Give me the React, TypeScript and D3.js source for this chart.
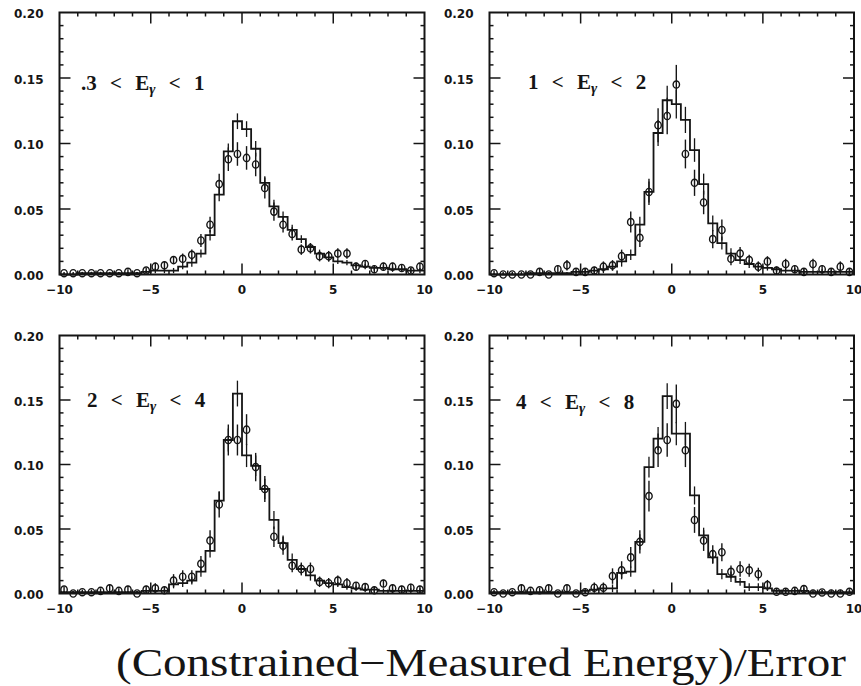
import React from "react";
import * as d3 from "d3";

// ---------- DATA ----------
// bins: 40 bins of width 0.5 from -10 to 10
const BIN_EDGES: number[] = d3.range(0, 41).map((i) => -10 + i * 0.5);
const BIN_CENTERS: number[] = d3.range(0, 40).map((i) => -9.75 + i * 0.5);

const E_LOW = [".3", "1", "2", "4"];
const E_HIGH = ["1", "2", "4", "8"];

// data points (circles)
const dataA = [0.001,0.001,0.001,0.001,0.001,0.001,0.001,0.002,0.001,0.003,0.006,0.007,0.011,0.012,0.015,0.026,0.038,0.069,0.088,0.092,0.089,0.084,0.066,0.048,0.038,0.031,0.019,0.020,0.014,0.014,0.016,0.016,0.006,0.008,0.004,0.006,0.006,0.005,0.003,0.006];
const errA = [0.001,0.001,0.001,0.001,0.001,0.001,0.001,0.002,0.001,0.002,0.003,0.003,0.003,0.004,0.004,0.005,0.006,0.008,0.009,0.009,0.009,0.009,0.008,0.007,0.006,0.005,0.004,0.004,0.004,0.004,0.004,0.004,0.003,0.003,0.003,0.003,0.003,0.003,0.002,0.003];

const dataB = [0.001,0.000,0.000,0.000,0.000,0.002,0.000,0.004,0.007,0.002,0.002,0.003,0.006,0.007,0.014,0.040,0.028,0.063,0.114,0.121,0.145,0.092,0.070,0.055,0.027,0.034,0.012,0.016,0.011,0.006,0.010,0.003,0.008,0.004,0.002,0.008,0.004,0.002,0.006,0.002];
const errB = [0.002,0.002,0.002,0.002,0.002,0.003,0.002,0.003,0.004,0.003,0.003,0.003,0.004,0.004,0.005,0.008,0.007,0.010,0.013,0.014,0.015,0.011,0.010,0.009,0.007,0.008,0.005,0.005,0.004,0.004,0.004,0.003,0.004,0.003,0.003,0.004,0.003,0.003,0.004,0.003];

const dataC = [0.003,0.000,0.001,0.001,0.002,0.004,0.002,0.003,0.000,0.003,0.004,0.0025,0.010,0.013,0.013,0.023,0.041,0.069,0.119,0.119,0.127,0.098,0.081,0.044,0.037,0.0215,0.019,0.019,0.009,0.008,0.010,0.008,0.006,0.005,0.0025,0.0077,0.004,0.003,0.0045,0.003];
const errC = [0.002,0.002,0.002,0.002,0.002,0.003,0.002,0.003,0.002,0.003,0.004,0.003,0.005,0.005,0.005,0.006,0.008,0.010,0.012,0.012,0.012,0.011,0.010,0.008,0.007,0.005,0.005,0.005,0.004,0.004,0.004,0.004,0.003,0.003,0.003,0.003,0.003,0.003,0.003,0.003];

const dataD = [0.001,0.000,0.001,0.004,0.002,0.0025,0.004,0.000,0.004,0.000,0.001,0.0045,0.0045,0.0135,0.018,0.028,0.040,0.0755,0.111,0.119,0.147,0.111,0.057,0.041,0.0305,0.032,0.0168,0.019,0.018,0.015,0.0065,0.0013,0.0013,0.002,0.0034,0.000,0.0008,0.000,0.000,0.0013];
const errD = [0.002,0.002,0.002,0.003,0.002,0.002,0.003,0.002,0.003,0.002,0.002,0.004,0.004,0.006,0.007,0.008,0.009,0.012,0.013,0.013,0.015,0.013,0.010,0.008,0.007,0.007,0.005,0.006,0.005,0.005,0.004,0.002,0.002,0.002,0.003,0.001,0.002,0.001,0.001,0.002];

// simulation histograms
const mcA = [0.000,0.000,0.001,0.001,0.001,0.001,0.001,0.001,0.001,0.002,0.003,0.003,0.003,0.006,0.009,0.016,0.030,0.061,0.094,0.117,0.111,0.096,0.070,0.052,0.044,0.034,0.027,0.021,0.016,0.013,0.010,0.009,0.007,0.006,0.005,0.005,0.004,0.004,0.003,0.003];
const mcErrA = [0.001,0.001,0.001,0.001,0.001,0.001,0.001,0.001,0.001,0.001,0.002,0.002,0.002,0.002,0.003,0.003,0.004,0.005,0.006,0.006,0.006,0.006,0.005,0.005,0.004,0.004,0.003,0.003,0.003,0.003,0.002,0.002,0.002,0.002,0.002,0.002,0.002,0.002,0.002,0.002];

const mcB = [0.000,0.000,0.000,0.000,0.001,0.001,0.001,0.001,0.001,0.002,0.002,0.003,0.004,0.006,0.010,0.015,0.038,0.063,0.108,0.133,0.130,0.118,0.095,0.069,0.039,0.024,0.016,0.011,0.008,0.006,0.005,0.004,0.003,0.003,0.002,0.002,0.002,0.002,0.002,0.002];
const mcErrB = [0.001,0.001,0.001,0.001,0.001,0.001,0.001,0.001,0.001,0.001,0.002,0.002,0.003,0.003,0.004,0.004,0.006,0.008,0.010,0.011,0.011,0.010,0.009,0.008,0.006,0.005,0.004,0.003,0.003,0.003,0.002,0.002,0.002,0.002,0.002,0.002,0.002,0.002,0.002,0.002];

const mcC = [0.001,0.001,0.001,0.001,0.001,0.001,0.001,0.001,0.001,0.002,0.002,0.002,0.007,0.008,0.010,0.017,0.033,0.072,0.119,0.155,0.107,0.099,0.081,0.057,0.039,0.026,0.019,0.014,0.010,0.008,0.007,0.005,0.004,0.003,0.003,0.002,0.002,0.002,0.002,0.002];
const mcErrC = [0.001,0.001,0.001,0.001,0.001,0.001,0.001,0.001,0.001,0.001,0.002,0.002,0.003,0.003,0.003,0.004,0.005,0.007,0.009,0.010,0.009,0.008,0.008,0.007,0.006,0.005,0.004,0.004,0.003,0.003,0.002,0.002,0.002,0.002,0.002,0.002,0.002,0.002,0.002,0.002];

const mcD = [0.001,0.001,0.001,0.001,0.001,0.001,0.001,0.001,0.001,0.001,0.002,0.003,0.004,0.004,0.016,0.017,0.040,0.098,0.120,0.153,0.124,0.124,0.076,0.045,0.028,0.015,0.013,0.009,0.005,0.005,0.004,0.002,0.002,0.002,0.002,0.001,0.001,0.001,0.001,0.001];
const mcErrD = [0.001,0.001,0.001,0.001,0.001,0.001,0.001,0.001,0.001,0.001,0.002,0.002,0.003,0.003,0.004,0.004,0.006,0.008,0.009,0.010,0.009,0.009,0.007,0.006,0.005,0.004,0.004,0.003,0.003,0.003,0.002,0.002,0.002,0.002,0.002,0.002,0.002,0.002,0.002,0.002];

const X_DOMAIN = [-10, 10];
const Y_DOMAIN = [0, 0.2];
const AXIS_TITLE = "(Constrained\u2212Measured Energy)/Error";

// ---------- LAYOUT ----------
const BOXES = [
  { x0: 59.5, x1: 424.5, y0: 12.5, y1: 274.5, lx: 81, ly: 90 },
  { x0: 489.5, x1: 854, y0: 12.5, y1: 274.5, lx: 528, ly: 89 },
  { x0: 59.5, x1: 424.5, y0: 335.5, y1: 593.5, lx: 87, ly: 407 },
  { x0: 489.5, x1: 854, y0: 335.5, y1: 593.5, lx: 516, ly: 409 },
];

const INK = "#151515";
const TICK_FONT = "'DejaVu Sans', Verdana, sans-serif";
const LABEL_FONT = "'Liberation Serif', 'Times New Roman', serif";

type PanelProps = {
  box: (typeof BOXES)[number];
  lo: string;
  hi: string;
  data: number[];
  err: number[];
  mc: number[];
  mcErr: number[];
};

function Panel({ box, lo, hi, data, err, mc, mcErr }: PanelProps) {
  const x = d3.scaleLinear().domain(X_DOMAIN).range([box.x0, box.x1]);
  const y = d3.scaleLinear().domain(Y_DOMAIN).range([box.y1, box.y0]);

  const histPts: [number, number][] = BIN_EDGES.map((e, i) => [
    x(e),
    y(mc[Math.min(i, mc.length - 1)]),
  ]);
  const stepLine = d3.line().curve(d3.curveStepAfter);
  const histPath = stepLine(histPts) || "";

  const xTicks = x.ticks(20).filter((t) => t > -10 && t < 10);
  const yTicks = y.ticks(20).filter((t) => t > 0.0001 && t < 0.1999);
  const isMajorX = (t: number) => Math.abs(Math.round(t) % 5) === 0;
  const isMajorY = (t: number) => Math.round(t * 100) % 5 === 0;
  const xLabels = x.ticks(4);
  const yLabels = y.ticks(4);
  const fmtY = d3.format(".2f");
  const fmtX = d3.format("d");

  const minorLen = 4;
  const majorLen = 11;

  return (
    <g>
      {xTicks.map((t) => {
        const L = isMajorX(t) ? majorLen : minorLen;
        return (
          <g key={"xt" + t} stroke={INK} strokeWidth={1.5}>
            <line x1={x(t)} x2={x(t)} y1={box.y0} y2={box.y0 + L} />
            <line x1={x(t)} x2={x(t)} y1={box.y1} y2={box.y1 - L} />
          </g>
        );
      })}
      {yTicks.map((t) => {
        const L = isMajorY(t) ? majorLen : minorLen;
        return (
          <g key={"yt" + t} stroke={INK} strokeWidth={1.5}>
            <line x1={box.x0} x2={box.x0 + L} y1={y(t)} y2={y(t)} />
            <line x1={box.x1} x2={box.x1 - L} y1={y(t)} y2={y(t)} />
          </g>
        );
      })}

      {xLabels.map((t) => (
        <text
          key={"xl" + t}
          x={x(t)}
          y={box.y1 + 19.5}
          textAnchor="middle"
          fontFamily={TICK_FONT}
          fontWeight="bold"
          fontSize={12}
          fill={INK}
        >
          {fmtX(t)}
        </text>
      ))}
      {yLabels.map((t) => (
        <text
          key={"yl" + t}
          x={box.x0 - 16}
          y={y(t) + 1.5}
          dy="0.35em"
          textAnchor="end"
          fontFamily={TICK_FONT}
          fontWeight="bold"
          fontSize={12}
          fill={INK}
        >
          {fmtY(t)}
        </text>
      ))}

      <path d={histPath} fill="none" stroke={INK} strokeWidth={1.8} />
      {BIN_CENTERS.map((c, i) => (
        <line
          key={"me" + i}
          x1={x(c)}
          x2={x(c)}
          y1={y(Math.max(0, mc[i] - mcErr[i]))}
          y2={y(mc[i] + mcErr[i])}
          stroke={INK}
          strokeWidth={1.3}
        />
      ))}

      {BIN_CENTERS.map((c, i) => (
        <g key={"d" + i} stroke={INK} strokeWidth={1.4} fill="none">
          <line
            x1={x(c)}
            x2={x(c)}
            y1={y(Math.max(0, data[i] - err[i]))}
            y2={y(data[i] + err[i])}
          />
          <ellipse cx={x(c)} cy={y(data[i])} rx={3.2} ry={3.6} />
        </g>
      ))}

      <rect
        x={box.x0}
        y={box.y0}
        width={box.x1 - box.x0}
        height={box.y1 - box.y0}
        fill="none"
        stroke={INK}
        strokeWidth={2}
      />

      <text
        x={box.lx}
        y={box.ly}
        fontFamily={LABEL_FONT}
        fontWeight="bold"
        fontSize={21}
        fill={INK}
        style={{ wordSpacing: "8px", whiteSpace: "pre" }}
      >
        {`${lo} < E`}
        <tspan fontSize={15} fontStyle="italic" dy={4}>
          {"\u03b3"}
        </tspan>
        <tspan dy={-4}>{` < ${hi}`}</tspan>
      </text>
    </g>
  );
}

const PANEL_DATA = [
  { data: dataA, err: errA, mc: mcA, mcErr: mcErrA },
  { data: dataB, err: errB, mc: mcB, mcErr: mcErrB },
  { data: dataC, err: errC, mc: mcC, mcErr: mcErrC },
  { data: dataD, err: errD, mc: mcD, mcErr: mcErrD },
];

export default function App() {
  return (
    <svg
      width={861}
      height={686}
      viewBox="0 0 861 686"
      style={{ position: "absolute", left: 0, top: 0, background: "#fff" }}
    >
      <rect x={0} y={0} width={861} height={686} fill="#fff" />
      {PANEL_DATA.map((p, i) => (
        <Panel
          key={i}
          box={BOXES[i]}
          lo={E_LOW[i]}
          hi={E_HIGH[i]}
          data={p.data}
          err={p.err}
          mc={p.mc}
          mcErr={p.mcErr}
        />
      ))}
      <text
        x={116}
        y={676}
        fontFamily={LABEL_FONT}
        fontSize={40}
        fill={INK}
        textLength={730}
        lengthAdjust="spacingAndGlyphs"
      >
        {AXIS_TITLE}
      </text>
    </svg>
  );
}
